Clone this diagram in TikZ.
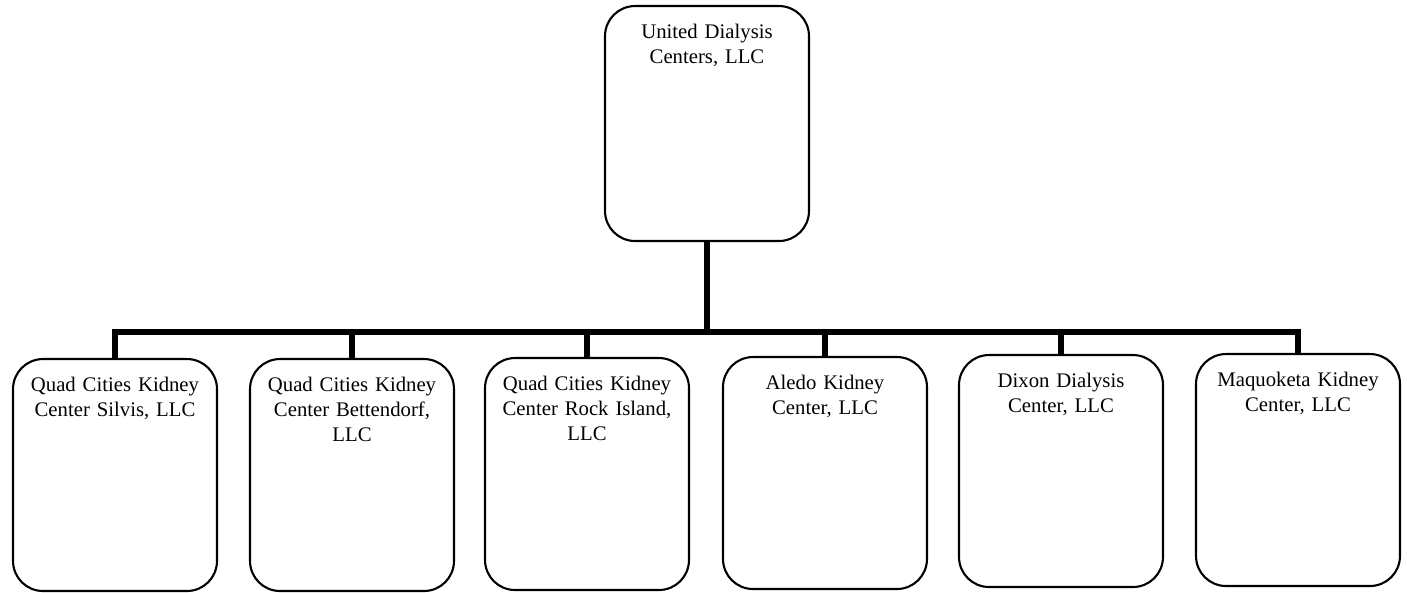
\documentclass[tikz,border=0pt]{standalone}
\usepackage{fontspec}
\setmainfont{Liberation Serif}
\usetikzlibrary{positioning}

\begin{document}
\begin{tikzpicture}[
    x=0.02cm, y=0.02cm,
    every node/.style={font=\fontsize{11.8}{14.3}\selectfont},
    orgbox/.style={rectangle, draw, line width=1.2pt, rounded corners=0.6cm,
                   anchor=north, minimum width=4.08cm, align=center,
                   text width=3.9cm, inner xsep=2pt, inner ysep=0pt,
                   text height=0.64cm, text depth=4.0cm},
    link/.style={line width=3.5pt}
]
    \useasboundingbox (0,0) rectangle (1407,592);

    \node[orgbox, text depth=4.06cm] (udc) at (707,587)
        {United Dialysis\\Centers, LLC};

    \node[orgbox] (silvis)  at (115,234)  {Quad Cities Kidney\\Center Silvis, LLC};
    \node[orgbox] (bett)    at (352,234)  {Quad Cities Kidney\\Center Bettendorf,\\LLC};
    \node[orgbox] (rock)    at (587,235)  {Quad Cities Kidney\\Center Rock Island,\\LLC};
    \node[orgbox] (aledo)   at (825,236)  {Aledo Kidney\\Center, LLC};
    \node[orgbox] (dixon)   at (1061,238) {Dixon Dialysis\\Center, LLC};
    \node[orgbox] (maq)     at (1298,239) {Maquoketa Kidney\\Center, LLC};

    \coordinate (hub) at (707,260);

    \draw[link] (udc.south) -- (hub);
    \draw[link] (hub) -| (silvis.north);
    \draw[link] (hub) -| (bett.north);
    \draw[link] (hub) -| (rock.north);
    \draw[link] (hub) -| (aledo.north);
    \draw[link] (hub) -| (dixon.north);
    \draw[link] (hub) -| (maq.north);
\end{tikzpicture}
\end{document}
